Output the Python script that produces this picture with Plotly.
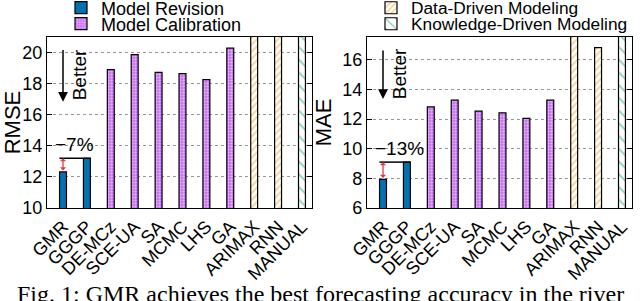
import plotly.graph_objects as go

methods = ["GMR", "GGGP", "DE-MCz", "SCE-UA", "SA", "MCMC", "LHS", "GA", "ARIMAX", "RNN", "MANUAL"]
groups = ["Model Revision", "Model Revision", "Model Calibration", "Model Calibration",
          "Model Calibration", "Model Calibration", "Model Calibration", "Model Calibration",
          "Data-Driven Modeling", "Data-Driven Modeling", "Knowledge-Driven Modeling"]
rmse = [12.32, 13.2, 18.9, 19.87, 18.73, 18.65, 18.26, 20.28, 22.5, 22.0, 24.0]
mae = [7.93, 9.1, 12.83, 13.28, 12.54, 12.43, 12.05, 13.28, 18.5, 16.83, 19.0]
rmse_ticks = [10, 12, 14, 16, 18, 20]
mae_ticks = [6, 8, 10, 12, 14, 16]

W, H = 640, 301
PT, PB = 37, 208  # plot area top / bottom in px

styles = {
    "Model Revision": dict(color="rgb(0,114,178)", pattern=dict(shape="")),
    "Model Calibration": dict(color="rgb(195,90,240)",
                              pattern=dict(shape=".", fgcolor="white", bgcolor="rgb(195,95,240)",
                                           size=3, solidity=0.5)),
    "Data-Driven Modeling": dict(color="white",
                                 pattern=dict(shape="/", fgcolor="rgb(240,170,40)", bgcolor="white",
                                              size=5, solidity=0.4)),
    "Knowledge-Driven Modeling": dict(color="white",
                                      pattern=dict(shape="\\", fgcolor="rgb(0,158,115)", bgcolor="white",
                                                   size=9, solidity=0.18)),
}
legend_ids = {"Model Revision": "legend", "Model Calibration": "legend2",
              "Data-Driven Modeling": "legend3", "Knowledge-Driven Modeling": "legend4"}

fig = go.Figure()
for panel, vals in ((1, rmse), (2, mae)):
    for g, st in styles.items():
        xs = [m for m, gg in zip(methods, groups) if gg == g]
        ys = [v for v, gg in zip(vals, groups) if gg == g]
        fig.add_trace(go.Bar(
            x=xs, y=ys, name=g, width=0.29,
            marker=dict(color=st["color"], pattern=st["pattern"],
                        line=dict(color="black", width=1.2)),
            xaxis="x" if panel == 1 else "x2", yaxis="y" if panel == 1 else "y2",
            showlegend=(panel == 1), legend=legend_ids[g],
        ))

font = dict(family="Liberation Sans, Arial, sans-serif", size=18, color="black")
axis_common = dict(showline=True, linecolor="black", linewidth=1.2, mirror=True, automargin=False)
xcommon = dict(axis_common, type="category", categoryorder="array", categoryarray=methods,
               range=[-0.67, 10.42], tickangle=-45, ticks="", tickfont=dict(size=18))
ycommon = dict(axis_common, ticks="inside", ticklen=5, tickcolor="black", mirror="ticks",
               showgrid=True, gridcolor="rgb(150,150,150)", griddash="dot", gridwidth=1,
               zeroline=False, tickfont=dict(size=18))

def px2paper_y(py):
    return (PB - py) / (PB - PT)

fig.update_layout(
    width=W, height=H, margin=dict(l=0, r=0, t=PT, b=H - PB, autoexpand=False),
    paper_bgcolor="white", plot_bgcolor="white", font=font, barmode="overlay",
    xaxis=dict(xcommon, domain=[47 / W, 312 / W], anchor="y"),
    yaxis=dict(ycommon, range=[10, 21.0], tickvals=rmse_ticks, anchor="x",
               title=dict(text="RMSE", standoff=4)),
    xaxis2=dict(xcommon, domain=[367 / W, 632 / W], anchor="y2"),
    yaxis2=dict(ycommon, range=[6, 17.55], tickvals=mae_ticks, anchor="x2",
                title=dict(text="MAE", standoff=4)),
)

leg_pos = {"legend": (61, 8, 18), "legend2": (61, 24, 18),
           "legend3": (371, 8, 17.3), "legend4": (371, 24, 17.3)}
for lid, (lx, ly, fs) in leg_pos.items():
    fig.update_layout({lid: dict(x=lx / W, y=px2paper_y(ly), xanchor="left", yanchor="middle",
                                 bgcolor="rgba(0,0,0,0)", font=dict(size=fs), itemwidth=30)})

# annotations: Better arrows, percentage brackets
for xr, yr, vals, top, tip, pct, pctx in (("x", "y", rmse, 20.26, 16.84, "−7%", 0.5),
                                         ("x2", "y2", mae, 16.74, 13.36, "−13%", 0.67)):
    fig.add_annotation(x=0, y=tip, ax=0, ay=top, xref=xr, yref=yr, axref=xr, ayref=yr,
                       text="", showarrow=True, arrowhead=2, arrowsize=1.3, arrowwidth=1.5,
                       arrowcolor="black")
    fig.add_annotation(x=0.68, y=(top + tip) / 2, xref=xr, yref=yr, text="Better",
                       textangle=-90, showarrow=False, font=dict(size=19))
    fig.add_shape(type="line", x0=-0.15, x1=1.15, y0=vals[1], y1=vals[1], xref=xr, yref=yr,
                  line=dict(color="black", width=1.5))
    fig.add_annotation(x=0, y=vals[1], ax=0, ay=vals[0], xref=xr, yref=yr, axref=xr, ayref=yr,
                       text="", showarrow=True, arrowhead=1, startarrowhead=1, arrowside="end+start",
                       arrowsize=0.8, startarrowsize=0.8, arrowwidth=1.3,
                       arrowcolor="rgb(220,60,80)")
    fig.add_annotation(x=pctx, y=vals[1], xref=xr, yref=yr, text=pct, showarrow=False,
                       yanchor="bottom", yshift=1, font=dict(size=19))

fig.add_annotation(x=0.5, y=px2paper_y(279), xref="paper", yref="paper", yanchor="top",
                   text="Fig. 1: GMR achieves the best forecasting accuracy in the river",
                   showarrow=False, font=dict(family="Liberation Serif, Times New Roman, serif", size=24))

fig.write_html("out.html", config={"displayModeBar": False},
               post_script="document.body.style.margin='0';")
